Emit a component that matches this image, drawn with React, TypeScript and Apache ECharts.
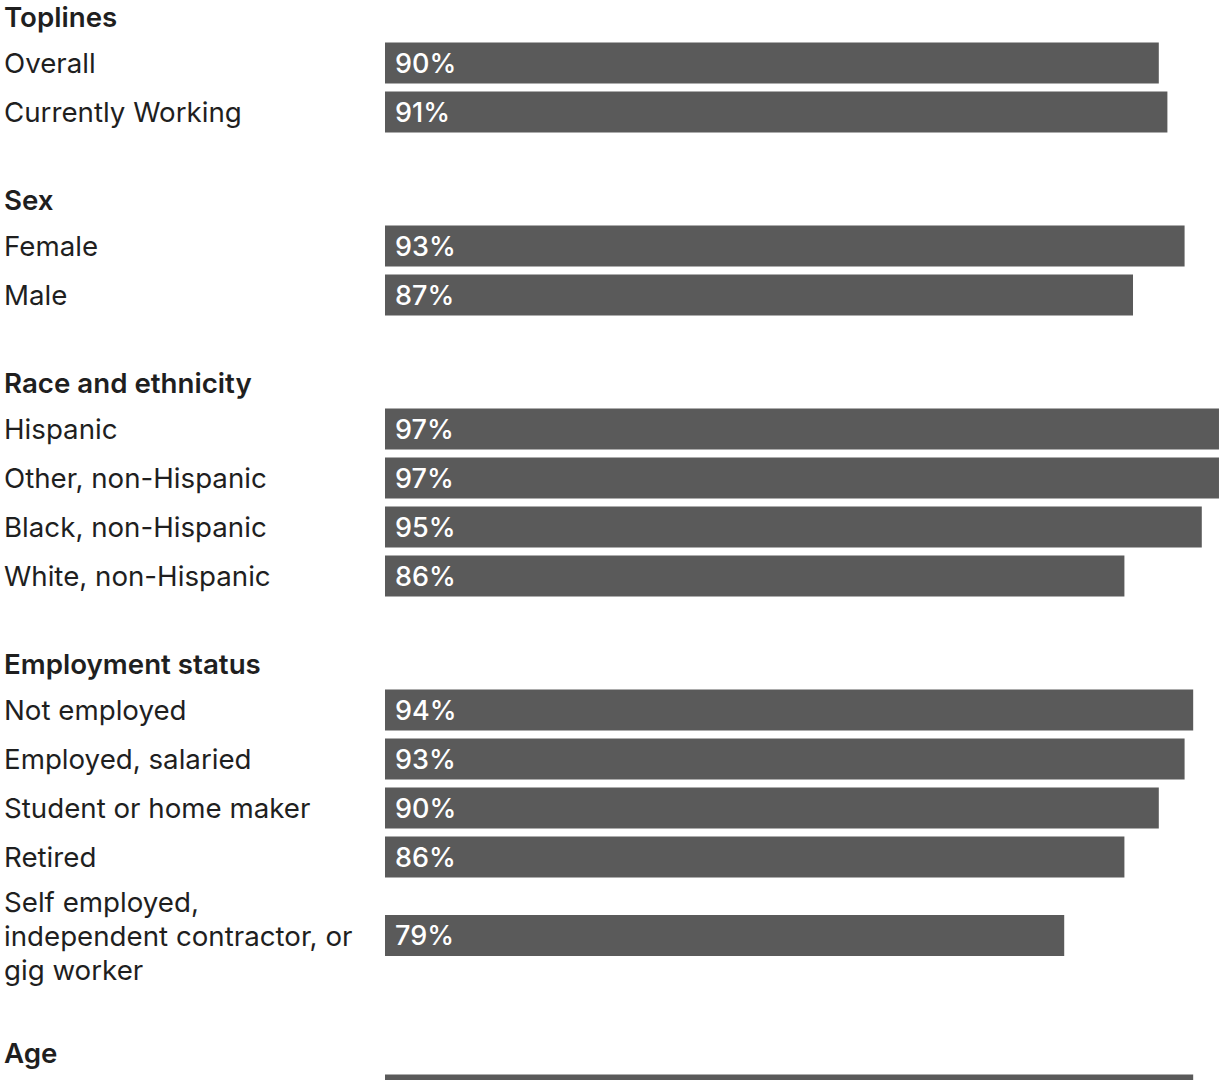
import React, { useEffect, useRef } from "react";
import * as echarts from "echarts";

const toplineCategories = ["Overall", "Currently Working"];
const toplineValues = [90, 91];
const sexCategories = ["Female", "Male"];
const sexValues = [93, 87];
const raceCategories = ["Hispanic", "Other, non-Hispanic", "Black, non-Hispanic", "White, non-Hispanic"];
const raceValues = [97, 97, 95, 86];
const employmentCategories = ["Not employed", "Employed, salaried", "Student or home maker", "Retired"];
const employmentValues = [94, 93, 90, 86];
const selfEmployedCategories = ["Self employed,\nindependent contractor, or\ngig worker"];
const selfEmployedValues = [79];
const ageCategories = ["18–29"];
const ageValues = [94];

const FONT = "Inter, 'Noto Sans', sans-serif";
const TEXT = "#1f1f1f";
const BAR = "#5a5a5a";
const FS = 27.7;

type Segment = { title?: string; cats: string[]; vals: number[]; rowH: number; hidden?: boolean };

const segments: Segment[] = [
  { title: "Toplines", cats: toplineCategories, vals: toplineValues, rowH: 49 },
  { title: "Sex", cats: sexCategories, vals: sexValues, rowH: 49 },
  { title: "Race and ethnicity", cats: raceCategories, vals: raceValues, rowH: 49 },
  { title: "Employment status", cats: employmentCategories, vals: employmentValues, rowH: 49 },
  { cats: selfEmployedCategories, vals: selfEmployedValues, rowH: 108 },
  { title: "Age", cats: ageCategories, vals: ageValues, rowH: 49, hidden: true },
];

export default function App() {
  const ref = useRef<HTMLDivElement>(null);
  useEffect(() => {
    if (!ref.current) return;
    const chart = echarts.init(ref.current, undefined, { renderer: "svg" });
    const grids: any[] = [];
    const xAxes: any[] = [];
    const yAxes: any[] = [];
    const series: any[] = [];
    const graphics: any[] = [];
    let y = 38.5;
    segments.forEach((s, i) => {
      if (s.title && i > 0) y += 85;
      if (s.title) {
        graphics.push({
          type: "text",
          left: 4,
          top: y - 22.5 - 13,
          style: { text: s.title, font: `600 ${FS}px ${FONT}`, fill: TEXT, textVerticalAlign: "top" },
        });
      }
      const h = s.cats.length * s.rowH;
      grids.push({ left: 385, top: y, right: 0, height: h, containLabel: false });
      xAxes.push({
        gridIndex: i, type: "value", min: 0, max: 97.7, show: false,
      });
      yAxes.push({
        gridIndex: i, type: "category", data: s.cats, inverse: true,
        axisLine: { show: false }, axisTick: { show: false }, splitLine: { show: false },
        axisLabel: {
          show: !s.hidden, align: "left", margin: 381, color: TEXT,
          fontFamily: FONT, fontSize: FS, lineHeight: 34,
        },
      });
      series.push({
        type: "bar", xAxisIndex: i, yAxisIndex: i, data: s.vals, barWidth: 41,
        itemStyle: { color: BAR },
        label: {
          show: !s.hidden, position: "insideLeft", distance: 10, formatter: "{c}%",
          color: "#ffffff", fontFamily: FONT, fontSize: 27, fontWeight: 500,
        },
      });
      y += h;
    });
    chart.setOption({
      animation: false,
      backgroundColor: "#ffffff",
      grid: grids,
      xAxis: xAxes,
      yAxis: yAxes,
      series,
      graphic: graphics,
    });
    return () => chart.dispose();
  }, []);
  return (
    <div
      ref={ref}
      style={{ position: "absolute", left: 0, top: 0, width: 1225, height: 1080 }}
    />
  );
}
